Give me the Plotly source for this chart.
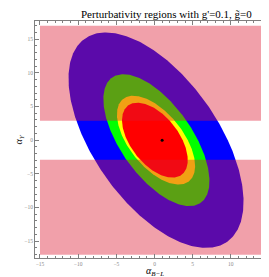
import numpy as np
import plotly.graph_objects as go

# ---- data ----
region_names = ["outer", "second", "third", "inner"]
band_colors = ["#0000ff", "#00ff00", "#ffff00", "#ff0000"]
center_x = [0.2, 0.25, 0.2, 0.05]
center_y = [0.0, 0.0, 0.0, 0.0]
half_width = [9.4, 5.45, 4.17, 3.65]     # half width along y = center
half_height = [16.0, 9.8, 6.6, 5.57]     # max extent in y
shear = [0.41, 0.44, 0.45, 0.41]         # x shift of chord centre per unit y
pink_x = [-15, 15]
pink_y = [-17, 17]
band_y = [-2.9, 2.9]
best_point = [1.0, 0.0]
x_ticks = [-15, -10, -5, 0, 5, 10, 15]
y_ticks = [-15, -10, -5, 0, 5, 10, 15]

fig = go.Figure()
t = np.linspace(0, 2 * np.pi, 400)
for name, col, cx, cy, w, h, b in zip(region_names, band_colors, center_x,
                                       center_y, half_width, half_height, shear):
    yy = h * np.sin(t)
    xx = -b * yy + w * np.cos(t)
    fig.add_trace(go.Scatter(x=cx + xx, y=cy + yy, mode="lines", fill="toself",
                             fillcolor=col, line=dict(width=0), hoverinfo="skip",
                             name=name, showlegend=False))

overlay = "rgba(220,24,49,0.41)"
for ylo, yhi in [(band_y[1], pink_y[1]), (pink_y[0], band_y[0])]:
    fig.add_trace(go.Scatter(x=[pink_x[0], pink_x[1], pink_x[1], pink_x[0], pink_x[0]],
                             y=[ylo, ylo, yhi, yhi, ylo], mode="lines", fill="toself",
                             fillcolor=overlay, line=dict(width=0), hoverinfo="skip",
                             showlegend=False))

fig.add_trace(go.Scatter(x=[best_point[0]], y=[best_point[1]], mode="markers",
                         marker=dict(color="black", size=3), showlegend=False))

axis_common = dict(showline=True, linecolor="#7f7f7f", linewidth=1, mirror="ticks",
                   ticks="inside", ticklen=4, tickcolor="#7f7f7f", tickwidth=0.7,
                   showgrid=False, zeroline=False, automargin=False,
                   tickfont=dict(family="Liberation Serif", size=5.5, color="#8a8a8a"),
                   minor=dict(ticks="inside", dtick=1, ticklen=2, tickcolor="#7f7f7f",
                              showgrid=False))
fig.update_xaxes(range=[-15.65, 15.65], tickvals=x_ticks, **axis_common)
fig.update_yaxes(range=[-17.5, 17.7], tickvals=y_ticks, **axis_common)

fig.update_layout(
    width=269, height=277,
    margin=dict(l=27, r=3, t=13, b=27),
    paper_bgcolor="white", plot_bgcolor="white",
    annotations=[
        dict(text="Perturbativity regions with g'=0.1, g̃=0", xref="paper", yref="paper",
             x=0.55, y=1.0, yshift=7, showarrow=False, xanchor="center", yanchor="middle",
             font=dict(family="Liberation Serif", size=11, color="black")),
        dict(text="<i>α</i><sub><i>B−L</i></sub>", xref="paper", yref="paper",
             x=0.5, y=0, yshift=-13, showarrow=False, xanchor="center", yanchor="middle",
             font=dict(family="Liberation Serif", size=10, color="black")),
        dict(text="<i>α</i><sub><i>Y</i></sub>", xref="paper", yref="paper",
             x=0, y=0.5, xshift=-16, showarrow=False, textangle=-90,
             xanchor="center", yanchor="middle",
             font=dict(family="Liberation Serif", size=10, color="black")),
    ],
)
fig.write_html("out.html")
